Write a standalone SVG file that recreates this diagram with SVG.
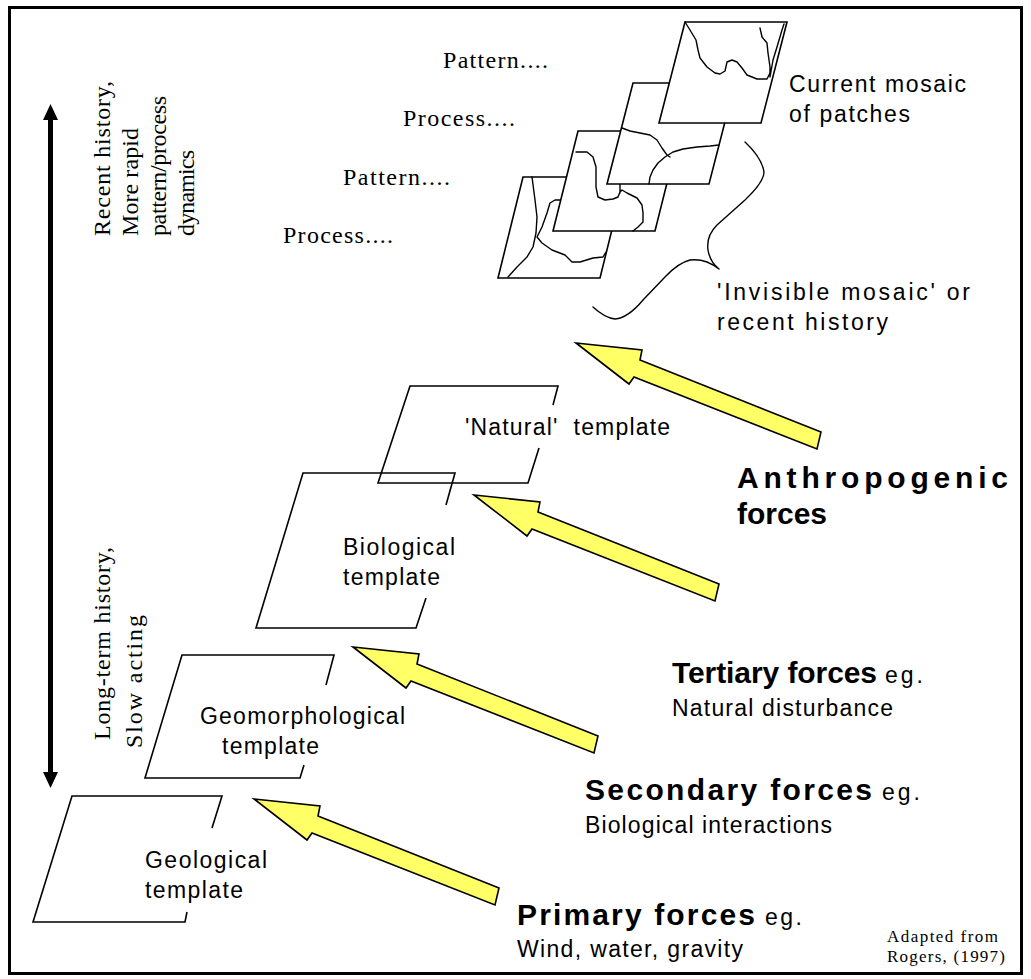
<svg xmlns="http://www.w3.org/2000/svg" width="1031" height="979" viewBox="0 0 1031 979">
<defs>
<path id="arr" d="M0,0 L66,7 L64,17 L245,89 L241,106 L58,34 L53,41 Z"/>
</defs>
<style>
.bg{fill:#ffffff}
.frame{fill:none;stroke:#000;stroke-width:3}
.tpl{fill:none;stroke:#000;stroke-width:1.6;stroke-linejoin:miter}
.mos{fill:#fff;stroke:#000;stroke-width:1.6}
.crv{fill:none;stroke:#000;stroke-width:1.4;stroke-linejoin:round;stroke-linecap:round}
.yarr{fill:#ffff66;stroke:#000;stroke-width:1.6;stroke-linejoin:miter}
.serif{font-family:"Liberation Serif","Times New Roman",serif;font-size:24px;fill:#000}
.sans{font-family:"Liberation Sans",Arial,sans-serif;font-size:23px;fill:#000}
.bold{font-family:"Liberation Sans",Arial,sans-serif;font-size:30px;font-weight:bold;fill:#000}
.small{font-family:"Liberation Serif","Times New Roman",serif;font-size:17px;fill:#000}
</style>
<rect class="bg" x="0" y="0" width="1031" height="979"/>
<rect class="frame" x="9.5" y="7.5" width="1012" height="966"/>

<g id="timeline">
<rect x="48" y="118" width="5" height="656" fill="#000"/>
<polygon points="50.5,104 43,120 58,120" fill="#000"/>
<polygon points="50.5,788 43,772 58,772" fill="#000"/>
</g>

<g id="label-recent">
<text class="serif" font-size="23" transform="translate(110,236) rotate(-90)"><tspan x="0" y="0" textLength="155">Recent history,</tspan><tspan x="0" y="28" textLength="108">More rapid</tspan><tspan x="0" y="56" textLength="140">pattern/process</tspan><tspan x="0" y="84" textLength="86">dynamics</tspan></text>
</g>
<g id="label-longterm">
<text class="serif" transform="translate(110,740) rotate(-90)"><tspan x="0" y="0" textLength="193">Long-term history,</tspan></text>
<text class="serif" transform="translate(142,748) rotate(-90)"><tspan x="0" y="0" textLength="133">Slow acting</tspan></text>
</g>

<g id="pp-labels">
<text class="serif" x="443" y="68" textLength="105">Pattern....</text>
<text class="serif" x="403" y="126" textLength="112">Process....</text>
<text class="serif" x="343" y="185" textLength="107">Pattern....</text>
<text class="serif" x="283" y="243" textLength="110">Process....</text>
</g>

<g id="mosaic">
<polygon class="mos" points="523,177 625,177 600,278 498,278"/>
<path class="crv" d="M532,177 L535,200 L537,217 L536,233 L533,247 L527,257 L517,267 L508,277"/>
<path class="crv" d="M563,200 L555,200 L550,203 L547,213 L542,227 L537,237 L542,243 L552,250 L565,255 L572,262 L580,262 L593,258 L603,257 L606,252"/>
<polygon class="mos" points="578,131 680,131 655,231 553,231"/>
<path class="crv" d="M576,152 L587,152 L593,157 L596,167 L596,187 L598,197 L605,200 L613,199 L618,197 L620,192 L622,190 L627,193 L637,198 L642,205 L643,213 L643,222 L638,227 L633,231 M620,184 L620,193"/>
<polygon class="mos" points="633,83 735,83 709,184 607,184"/>
<path class="crv" d="M622,128 L630,131 L640,133 L650,135 L657,140 L662,148 L667,155 L670,157"/>
<path class="crv" d="M649,184 L650,177 L653,170 L658,163 L665,157 L673,152 L683,149 L697,147 L710,146 L719,145"/>
<polygon class="mos" points="685,22 787,22 761,123 659,123"/>
<path class="crv" d="M685,22 L690,30 L696,40 L698,50 L700,58 L707,67 L715,73 L720,74 L725,71 L727,62 L732,60 L737,62 L742,68 L747,75 L757,79 L767,79 L770,73"/>
<path class="crv" d="M760,28 L762,37 L767,43 L768,53 L770,67 L770,77 L773,60 L777,47 L782,30 L784,24"/>
</g>
<path id="brace" class="crv" d="M745,142 Q762,158 764,172 Q764,182 745,200 L717,225 Q706,236 708,250 Q710,262 719,269 Q705,258 690,260 Q678,263 665,277 L643,300 Q628,318 615,319 Q605,318 593,307"/>

<g id="mosaic-labels">
<text class="sans" x="789" y="92" textLength="177">Current mosaic</text>
<text class="sans" x="789" y="122" textLength="121">of patches</text>
<text class="sans" x="717" y="300" textLength="253">'Invisible mosaic' or</text>
<text class="sans" x="717" y="330" textLength="171">recent history</text>
</g>

<g id="natural-template">
<path class="tpl" d="M553,405 L558,386 L410,386 L378,483 L528,483 L539,448"/>
<text class="sans" x="465" y="435" textLength="205" xml:space="preserve">'Natural'  template</text>
</g>
<g id="biological-template">
<path class="tpl" d="M446,505 L455,473 L303,473 L256,628 L416,628 L426,598"/>
<text class="sans" x="343" y="555" textLength="112">Biological</text>
<text class="sans" x="343" y="585" textLength="97">template</text>
</g>
<g id="geomorphological-template">
<path class="tpl" d="M326,685 L334,655 L182,655 L145,778 L300,778 L304,765"/>
<text class="sans" x="200" y="724" textLength="205">Geomorphological</text>
<text class="sans" x="222" y="754" textLength="97">template</text>
</g>
<g id="geological-template">
<path class="tpl" d="M212,828 L222,796 L72,796 L33,922 L185,922 L187,912"/>
<text class="sans" x="145" y="868" textLength="122">Geological</text>
<text class="sans" x="145" y="898" textLength="98">template</text>
</g>

<g id="connectors">
<use href="#arr" class="yarr" transform="translate(254,799)"/>
<use href="#arr" class="yarr" transform="translate(353,647)"/>
<use href="#arr" class="yarr" transform="translate(474,495)"/>
<use href="#arr" class="yarr" transform="translate(576,343)"/>
</g>

<g id="anthropogenic">
<text class="bold" x="737" y="488" font-size="31" textLength="271">Anthropogenic</text>
<text class="bold" x="737" y="524" font-size="31" textLength="90">forces</text>
</g>
<g id="tertiary">
<text class="bold" x="672" y="683" textLength="205">Tertiary forces</text>
<text class="sans" x="885" y="683" textLength="38">eg.</text>
<text class="sans" x="672" y="716" textLength="221">Natural disturbance</text>
</g>
<g id="secondary">
<text class="bold" x="585" y="800" textLength="287">Secondary forces</text>
<text class="sans" x="882" y="800" textLength="38">eg.</text>
<text class="sans" x="585" y="833" textLength="247">Biological interactions</text>
</g>
<g id="primary">
<text class="bold" x="517" y="925" textLength="238">Primary forces</text>
<text class="sans" x="765" y="925" textLength="37">eg.</text>
<text class="sans" x="517" y="957" textLength="226">Wind, water, gravity</text>
</g>
<g id="credit">
<text class="small" x="887" y="942" textLength="111">Adapted from</text>
<text class="small" x="887" y="962" textLength="118">Rogers, (1997)</text>
</g>
</svg>
